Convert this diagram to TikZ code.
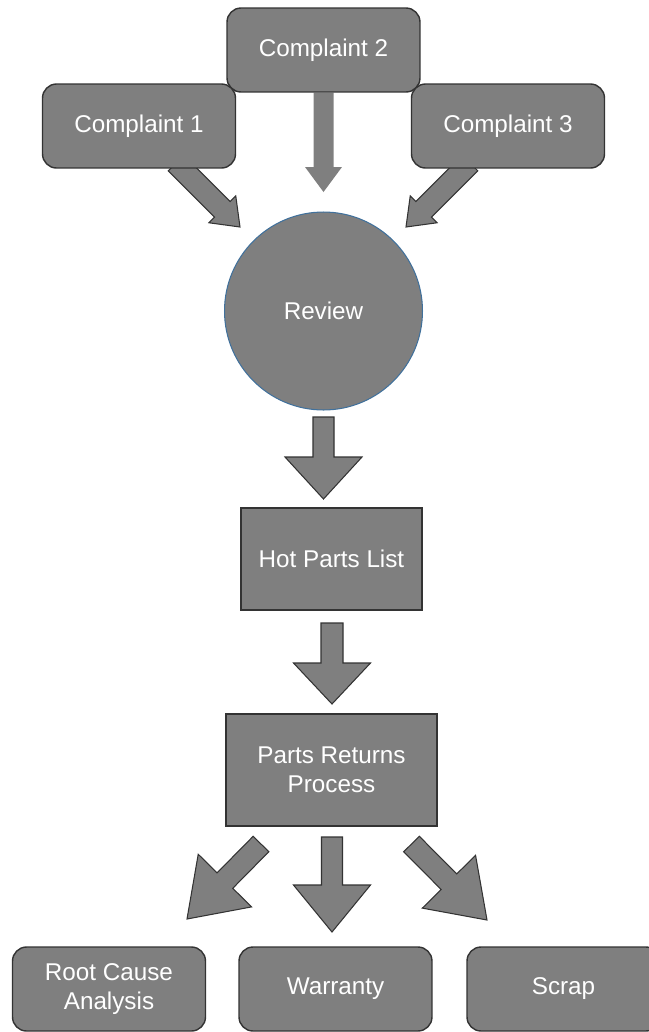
\documentclass[tikz,border=0pt]{standalone}
\usepackage{fontspec}
\setmainfont{Liberation Sans}
\usetikzlibrary{calc}

\definecolor{boxgray}{RGB}{127,127,127}
\definecolor{rimblue}{RGB}{65,113,156}
\pgfdeclarelayer{back}
\pgfsetlayers{back,main}

% block arrow: [style]{tail}{tip}{half shaft}{half head}{head length}
\newcommand\blockarrow[6][]{%
  \coordinate (hb) at ($(#3)!#6!(#2)$);
  \path[fill=boxgray,line join=miter,#1]
    ($(#2)!#4!90:(#3)$) -- ($(hb)!#4!90:(#3)$) -- ($(hb)!#5!90:(#3)$)
    -- (#3) -- ($(hb)!#5!-90:(#3)$) -- ($(hb)!#4!-90:(#3)$)
    -- ($(#2)!#4!-90:(#3)$) -- cycle;}

\begin{document}
\begin{tikzpicture}[x=0.02cm,y=-0.02cm,
  every node/.style={text=white,font=\fontsize{13.8}{16.5}\selectfont,align=center},
  complaint/.style={draw=black!80,fill=boxgray,line width=0.8pt,rounded corners=0.28cm,
    minimum width=3.86cm,minimum height=1.68cm},
  stage/.style={draw=black!80,fill=boxgray,line width=0.8pt},
  rim/.style={draw=black!80,line width=0.6pt}]
  \useasboundingbox (0,0) rectangle (649,1032);
  \clip (0,0) rectangle (649,1032);

  \node[complaint] (c2) at (323.5,50) {Complaint 2};
  \node[complaint] (c1) at (139,126) {Complaint 1};
  \node[complaint] (c3) at (508,126) {Complaint 3};
  \node[circle,fill=boxgray,draw=rimblue,line width=0.6pt,minimum size=3.96cm]
    (review) at (323.5,311) {Review};
  \node[stage,minimum width=3.62cm,minimum height=2.04cm] (hot) at (331.5,559) {Hot Parts List};
  \node[stage,minimum width=4.22cm,minimum height=2.24cm] (returns) at (331.5,770)
    {Parts Returns\\Process};
  \node[complaint] (rootcause) at (109,989) {Root Cause\\Analysis};
  \node[complaint] (warranty) at (335.5,989) {Warranty};
  \node[complaint] (scrap) at (563.5,989) {Scrap};

  \coordinate (c1tail) at (176,163);    \coordinate (c1tip) at (240,227);
  \coordinate (c2tip) at (323.5,192);
  \coordinate (c3tail) at (470,163);    \coordinate (c3tip) at (406,227);
  \coordinate (revtail) at (323.5,417); \coordinate (revtip) at (323.5,499);
  \coordinate (hottail) at (332,623);   \coordinate (hottip) at (332,704);
  \coordinate (wartail) at (332,837);   \coordinate (wartip) at (332,932);
  \coordinate (rcatail) at (261,844);   \coordinate (rcatip) at (187,919);
  \coordinate (scrtail) at (411.5,844); \coordinate (scrtip) at (487,920);

  \begin{pgfonlayer}{back}
    \blockarrow[rim]{c1tail}{c1tip}{0.22cm}{0.38cm}{0.5cm}
    \blockarrow{c2.south}{c2tip}{0.2cm}{0.37cm}{0.5cm}
    \blockarrow[rim]{c3tail}{c3tip}{0.22cm}{0.38cm}{0.5cm}
    \blockarrow[rim]{revtail}{revtip}{0.21cm}{0.77cm}{0.84cm}
    \blockarrow[rim]{hottail}{hottip}{0.22cm}{0.77cm}{0.82cm}
    \blockarrow[rim]{wartail}{wartip}{0.21cm}{0.77cm}{0.94cm}
    \blockarrow[rim]{rcatail}{rcatip}{0.22cm}{0.75cm}{1.08cm}
    \blockarrow[rim]{scrtail}{scrtip}{0.22cm}{0.75cm}{1.08cm}
  \end{pgfonlayer}
\end{tikzpicture}
\end{document}
